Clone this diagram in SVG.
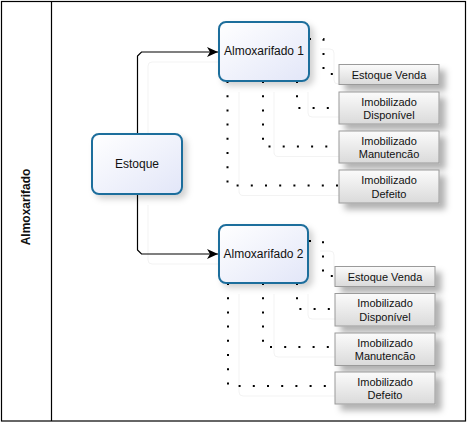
<svg xmlns="http://www.w3.org/2000/svg" width="468" height="423" viewBox="0 0 468 423">
  <defs>
    <linearGradient id="gMain" x1="0" y1="0" x2="1" y2="1">
      <stop offset="0" stop-color="#ffffff"/>
      <stop offset="1" stop-color="#e2e6f8"/>
    </linearGradient>
    <linearGradient id="gChild" x1="0" y1="0" x2="0" y2="1">
      <stop offset="0" stop-color="#fbfbfb"/>
      <stop offset="1" stop-color="#dadada"/>
    </linearGradient>
    <filter id="shMain" x="-20%" y="-20%" width="150%" height="150%">
      <feDropShadow dx="4" dy="4" stdDeviation="3" flood-color="#000" flood-opacity="0.18"/>
    </filter>
    <filter id="shChild" x="-20%" y="-40%" width="150%" height="200%">
      <feDropShadow dx="6" dy="6" stdDeviation="3" flood-color="#000" flood-opacity="0.3"/>
    </filter>
    <marker id="arr" markerWidth="12" markerHeight="10" refX="11" refY="5" orient="auto" markerUnits="userSpaceOnUse">
      <path d="M0,0 L11,5 L0,10 L3,5 Z" fill="#000"/>
    </marker>
  </defs>
  <style>
    .frame{fill:none;stroke:#000;stroke-width:1.2}
    .main rect{fill:url(#gMain);stroke:#1f6e9c;stroke-width:2;filter:url(#shMain)}
    .child rect{fill:url(#gChild);stroke:#9a9a9a;stroke-width:1;filter:url(#shChild)}
    text{font-family:"Liberation Sans",Arial,sans-serif;fill:#111}
    .mt{font-size:12px;text-anchor:middle}
    .ct{font-size:11px;text-anchor:middle}
    .lane{font-size:12px;font-weight:bold;text-anchor:middle}
    .ghost{fill:none;stroke:#f3f3f3;stroke-width:1}
    .solid{fill:none;stroke:#000;stroke-width:1.2}
    .dot{fill:none;stroke:#000;stroke-width:2;stroke-dasharray:2 12.2}
  </style>

  <g id="lane">
    <rect class="frame" x="1.5" y="1.5" width="464" height="419.5"/>
    <line class="frame" x1="51.5" y1="1.5" x2="51.5" y2="421"/>
    <text class="lane" transform="translate(30,207) rotate(-90)">Almoxarifado</text>
  </g>

  <g id="connectors">
    <path class="ghost" d="M148,133 V66 Q148,62 152,62 H218"/>
    <path class="ghost" d="M148,205 V260 Q148,264 152,264 H218"/>
    <path class="ghost" d="M239,92 V191 Q239,195.5 243,195.5 H339"/>
    <path class="ghost" d="M274,92 V152 Q274,156.5 278,156.5 H339"/>
    <path class="ghost" d="M308,92 V113 Q308,117 312,117 H339"/>
    <path class="ghost" d="M320,49 H330 Q334,49 334,53 V80 Q334,84 338,84 H339"/>
    <path class="ghost" d="M239,294 V392 Q239,396 243,396 H335"/>
    <path class="ghost" d="M274,294 V353 Q274,357 278,357 H335"/>
    <path class="ghost" d="M308,294 V315 Q308,319 312,319 H335"/>
    <path class="ghost" d="M320,251 H330 Q334,251 334,255 V282 Q334,286 335,286"/>

    <path class="solid" d="M137.5,134 V56 L141.5,52 H218" marker-end="url(#arr)"/>
    <path class="solid" d="M137.5,194 V250 L141.5,254 H218" marker-end="url(#arr)"/>

    <path class="dot" d="M227.5,81 V185.5 H339"/>
    <path class="dot" d="M263,81 V146.5 H339"/>
    <path class="dot" d="M297,81 V108 H339"/>
    <path class="dot" d="M309,39 H323.5 V74 H339"/>
    <path class="dot" d="M228,283 V386 H335"/>
    <path class="dot" d="M263,283 V347 H335"/>
    <path class="dot" d="M297,283 V309 H335"/>
    <path class="dot" d="M309,241 H323 V276 H335"/>
  </g>

  <g id="estoque" class="main">
    <rect x="92" y="134" width="90" height="60" rx="7"/>
    <text class="mt" x="137" y="168">Estoque</text>
  </g>
  <g id="almox1" class="main">
    <rect x="219" y="22" width="90" height="59" rx="7"/>
    <text class="mt" x="264" y="55">Almoxarifado 1</text>
  </g>
  <g id="almox2" class="main">
    <rect x="219" y="225" width="89" height="58" rx="7"/>
    <text class="mt" x="263.5" y="258">Almoxarifado 2</text>
  </g>

  <g id="a1-venda" class="child">
    <rect x="339" y="64.5" width="100" height="20"/>
    <text class="ct" x="389" y="78.5">Estoque Venda</text>
  </g>
  <g id="a1-disponivel" class="child">
    <rect x="339" y="92" width="100" height="32"/>
    <text class="ct" x="389" y="105.5">Imobilizado</text>
    <text class="ct" x="389" y="119">Disponível</text>
  </g>
  <g id="a1-manutencao" class="child">
    <rect x="339" y="131" width="100" height="32"/>
    <text class="ct" x="389" y="144.5">Imobilizado</text>
    <text class="ct" x="389" y="158">Manutencão</text>
  </g>
  <g id="a1-defeito" class="child">
    <rect x="339" y="170" width="100" height="33"/>
    <text class="ct" x="389" y="183.5">Imobilizado</text>
    <text class="ct" x="389" y="197.5">Defeito</text>
  </g>

  <g id="a2-venda" class="child">
    <rect x="335" y="266.5" width="100" height="20"/>
    <text class="ct" x="385" y="280.5">Estoque Venda</text>
  </g>
  <g id="a2-disponivel" class="child">
    <rect x="335" y="293.5" width="100" height="32.5"/>
    <text class="ct" x="385" y="307">Imobilizado</text>
    <text class="ct" x="385" y="320.5">Disponível</text>
  </g>
  <g id="a2-manutencao" class="child">
    <rect x="335" y="333" width="100" height="32.5"/>
    <text class="ct" x="385" y="346.5">Imobilizado</text>
    <text class="ct" x="385" y="360">Manutencão</text>
  </g>
  <g id="a2-defeito" class="child">
    <rect x="335" y="372" width="100" height="32"/>
    <text class="ct" x="385" y="385.5">Imobilizado</text>
    <text class="ct" x="385" y="399">Defeito</text>
  </g>
</svg>
